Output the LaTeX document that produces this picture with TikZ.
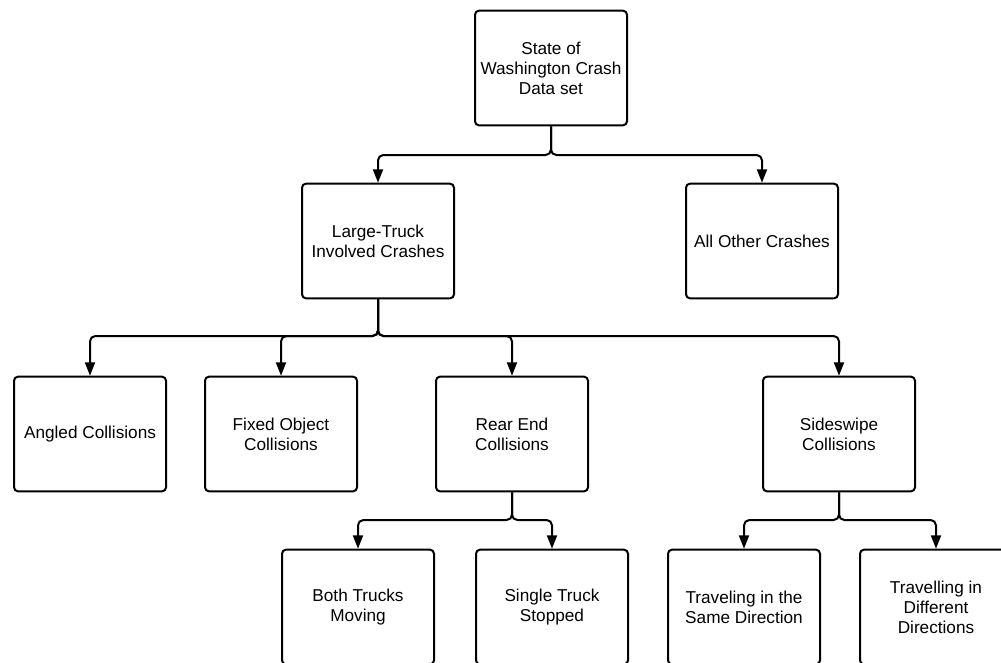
\documentclass[tikz,border=0pt]{standalone}
\usepackage{fontspec}
\setmainfont{Liberation Sans}
\usetikzlibrary{arrows.meta}
\tikzset{
  box/.style={draw, line width=1.5pt, rounded corners=3pt, minimum width=114pt,
    minimum height=86pt, inner sep=0pt, align=center,
    font=\fontsize{12.9}{15}\selectfont},
  link/.style={line width=1.5pt, rounded corners=4pt,
    -{Triangle[length=10pt, width=7.5pt]}}
}
\begin{document}
\begin{tikzpicture}[x=0.75pt, y=-0.75pt]
    \useasboundingbox (0, 0) rectangle (1001, 662);
    \clip (0, 0) rectangle (1001, 662);

    \node[box] (root) at (551, 68) {State of\\Washington Crash\\Data set};

    \node[box] (truck) at (378, 241) {Large-Truck\\Involved Crashes};
    \node[box] (other) at (762, 241) {All Other Crashes};

    \node[box] (angled) at (90, 434) {Angled Collisions};
    \node[box] (fixed) at (281, 434) {Fixed Object\\Collisions};
    \node[box] (rear) at (512, 434) {Rear End\\Collisions};
    \node[box] (side) at (839, 434) {Sideswipe\\Collisions};

    \node[box] (moving) at (358, 607) {Both Trucks\\Moving};
    \node[box] (stopped) at (552, 607) {Single Truck\\Stopped};
    \node[box] (same) at (744, 607) {Traveling in the\\Same Direction};
    \node[box] (diff) at (936, 607) {Travelling in\\Different\\Directions};

    \coordinate (bus1) at (0, 155);
    \coordinate (bus2) at (0, 336);
    \coordinate (bus3) at (0, 520);

    \foreach \kid in {truck, other}
      \draw[link] (root.south) -- (root.south |- bus1) -| (\kid.north);
    \foreach \kid in {angled, fixed, rear, side}
      \draw[link] (truck.south) -- (truck.south |- bus2) -| (\kid.north);
    \foreach \kid in {moving, stopped}
      \draw[link] (rear.south) -- (rear.south |- bus3) -| (\kid.north);
    \foreach \kid in {same, diff}
      \draw[link] (side.south) -- (side.south |- bus3) -| (\kid.north);
  \end{tikzpicture}
\end{document}
